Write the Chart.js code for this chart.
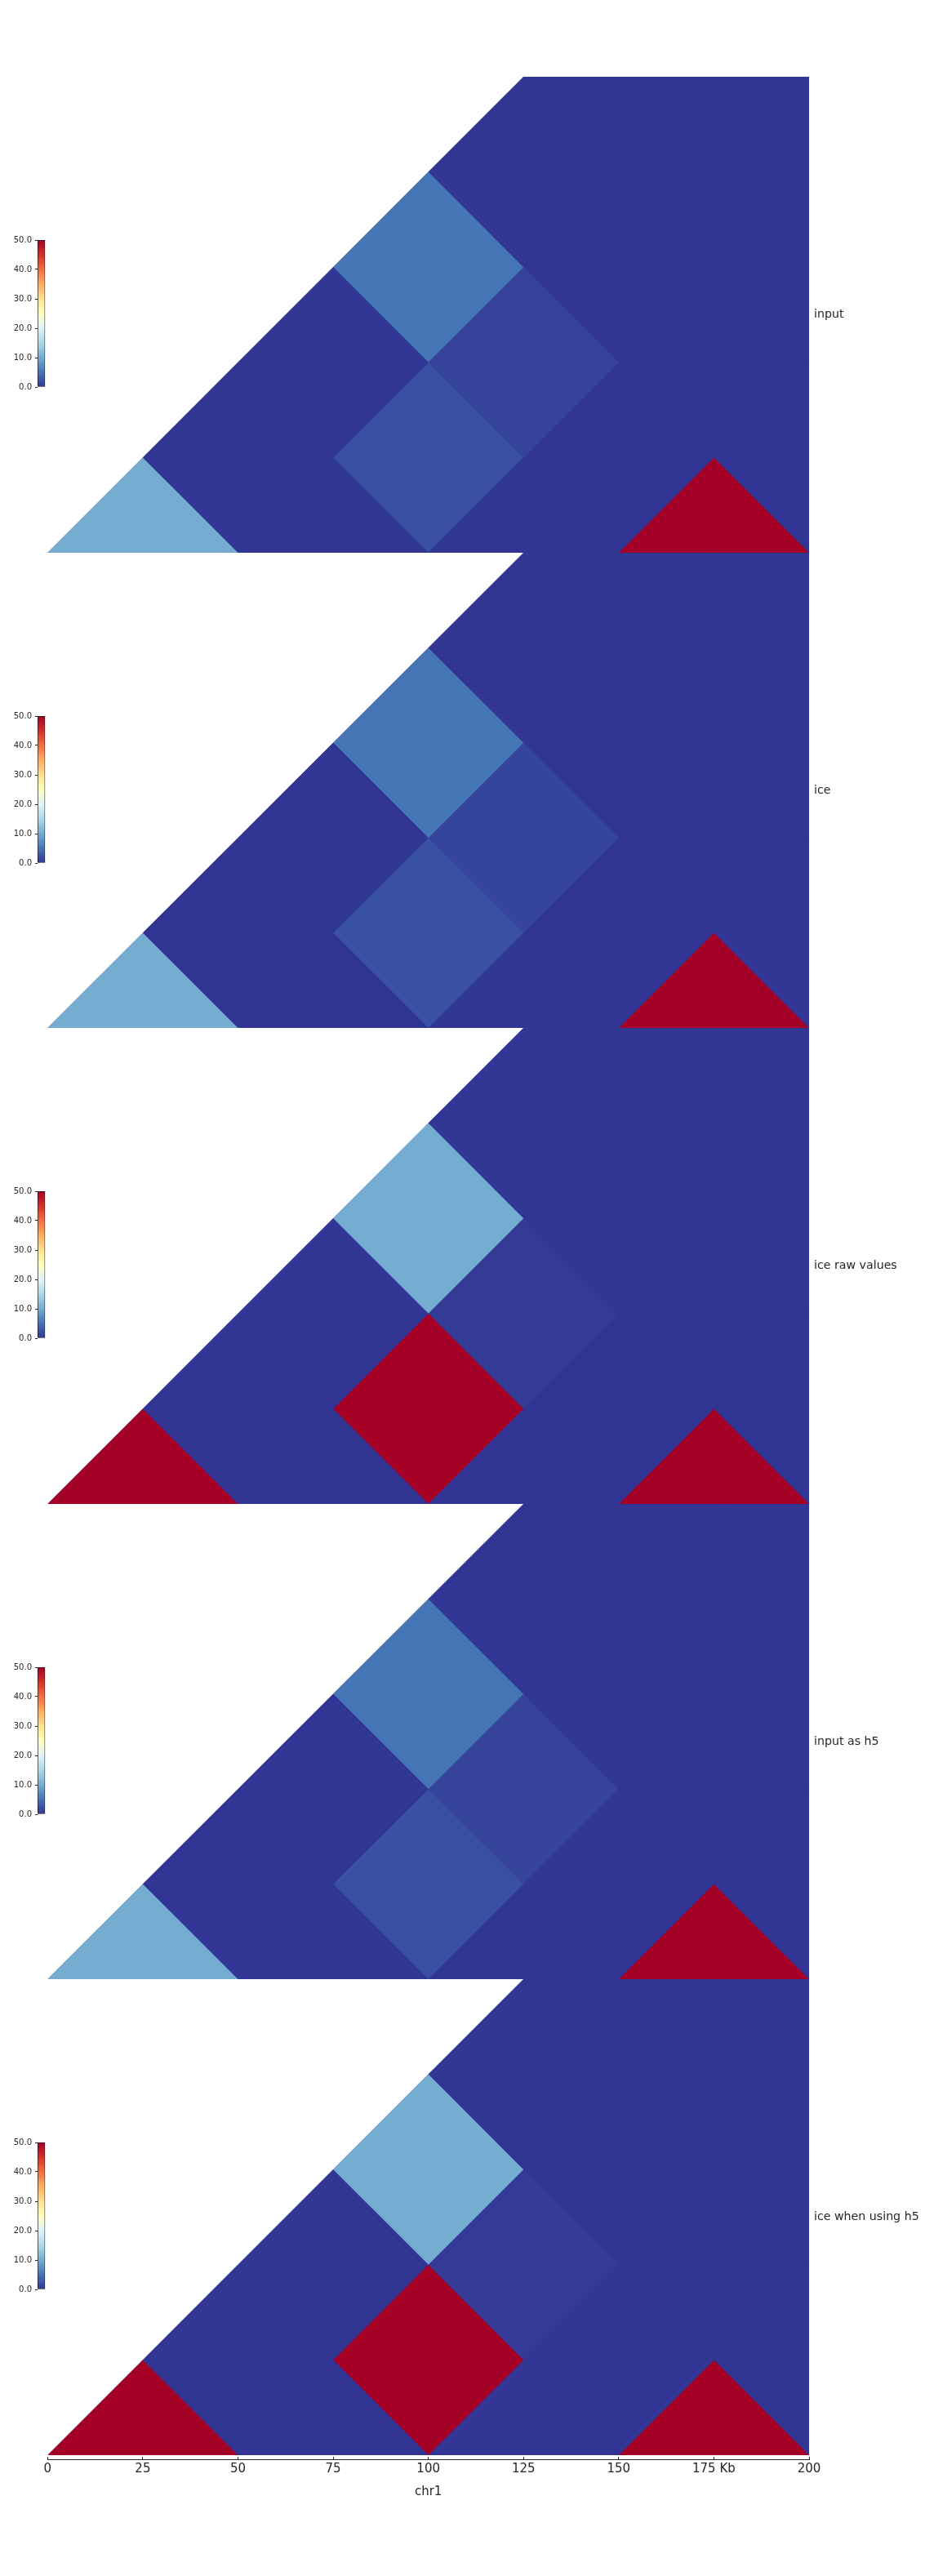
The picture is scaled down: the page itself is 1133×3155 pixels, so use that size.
<!DOCTYPE html>
<html>
<head>
<meta charset="utf-8">
<title>chr1 contact matrices</title>
<script src="https://cdn.jsdelivr.net/npm/chart.js"></script>
<style>
  html, body { margin: 0; padding: 0; background: #fff; }
  body { position: relative; width: 1133px; height: 3155px; overflow: hidden; font-family: "DejaVu Sans", sans-serif; }
  canvas { position: absolute; left: 0; }
  .track-label { position: absolute; left: 997px; font-size: 14.2px; line-height: 18px; color: #262626; white-space: nowrap; }
</style>
</head>
<body>
<script>
// 50 kb bins, only the first four bins (0-200 kb) hold counts; chr1 runs on past the view
const binSize = 50;
const chromEnd = 350;
const regionStart = 0;
const regionEnd = 200;
const maxDepth = 125; // half of the 250 kb max distance shown
const vMax = 50;

const trackLabels = ['input', 'ice', 'ice raw values', 'input as h5', 'ice when using h5'];

// symmetric matrices, bins 0-50, 50-100, 100-150, 150-200 kb
const inputMatrix = [
  [10, 0, 0, 5],
  [0, 0, 2, 1],
  [0, 2, 0, 0],
  [5, 1, 0, 50]
];
const iceMatrix = [
  [10, 0, 0, 5],
  [0, 0, 2.2, 1.1],
  [0, 2.2, 0, 0],
  [5, 1.1, 0, 50]
];
const iceRawMatrix = [
  [50, 0, 0, 10],
  [0, 0, 50, 0.4],
  [0, 50, 0, 0],
  [10, 0.4, 0, 50]
];
const inputH5Matrix = [
  [10, 0, 0, 5],
  [0, 0, 2, 1],
  [0, 2, 0, 0],
  [5, 1, 0, 50]
];
const iceH5Matrix = [
  [50, 0, 0, 10],
  [0, 0, 50, 0.4],
  [0, 50, 0, 0],
  [10, 0.4, 0, 50]
];
const trackMatrices = [inputMatrix, iceMatrix, iceRawMatrix, inputH5Matrix, iceH5Matrix];

const xTicks = [0, 25, 50, 75, 100, 125, 150, 175, 200];
const xTickLabels = ['0', '25', '50', '75', '100', '125', '150', '175 Kb', '200'];
const colorbarTicks = [0, 10, 20, 30, 40, 50];
const colorbarTickLabels = ['0.0', '10.0', '20.0', '30.0', '40.0', '50.0'];

// RdYlBu_r
const cmap = ['#313695', '#4575b4', '#74add1', '#abd9e9', '#e0f3f8', '#ffffbf',
              '#fee090', '#fdae61', '#f46d43', '#d73027', '#a50026'];

// layout
const panelTops = [94, 677, 1259, 1842, 2424, 3007];
const textColor = '#262626';
Chart.defaults.font.family = '"DejaVu Sans", sans-serif';

function hexToRgb(h) {
  return [1, 3, 5].map(k => parseInt(h.slice(k, k + 2), 16));
}

function colorFor(v) {
  const t = Math.min(1, Math.max(0, v / vMax)) * (cmap.length - 1);
  const k = Math.min(Math.floor(t), cmap.length - 2);
  const f = t - k;
  const a = hexToRgb(cmap[k]);
  const b = hexToRgb(cmap[k + 1]);
  return 'rgb(' + a.map((c, n) => Math.round(c + (b[n] - c) * f)).join(',') + ')';
}

function addCanvas(top, width, height) {
  const cv = document.createElement('canvas');
  cv.width = width;
  cv.height = height;
  cv.style.top = top + 'px';
  cv.style.width = width + 'px';
  cv.style.height = height + 'px';
  document.body.appendChild(cv);
  return cv.getContext('2d');
}

const shapeStyle = { fill: 'shape', borderWidth: 0, pointRadius: 0, tension: 0 };

// every cell (i, j) becomes a 45 degree diamond: x = mid of the two bins, y = half the distance
function cellDatasets(matrix) {
  const nBins = chromEnd / binSize;
  const sets = [];
  for (let i = 0; i < nBins; i++) {
    for (let j = i; j < nBins; j++) {
      const v = (matrix[i] && matrix[i][j] !== undefined) ? matrix[i][j] : 0;
      const a = i * binSize, b = a + binSize, c = j * binSize, d = c + binSize;
      const pts = [
        { x: (b + c) / 2, y: (c - b) / 2 },
        { x: (a + c) / 2, y: (c - a) / 2 },
        { x: (a + d) / 2, y: (d - a) / 2 },
        { x: (b + d) / 2, y: (d - b) / 2 }
      ];
      pts.push(pts[0]);
      sets.push(Object.assign({ data: pts, backgroundColor: colorFor(v) }, shapeStyle));
    }
  }
  // whole matrix footprint, drawn first (last dataset) so seams between cells stay dark
  sets.push(Object.assign({
    data: [{ x: 0, y: 0 }, { x: chromEnd / 2, y: chromEnd / 2 }, { x: chromEnd, y: 0 }, { x: 0, y: 0 }],
    backgroundColor: colorFor(0)
  }, shapeStyle));
  return sets;
}

function colorbarFill(c) {
  const chart = c.chart;
  const y = chart.scales.y;
  if (!y || !chart.chartArea) return cmap[0];
  const y0 = y.getPixelForValue(0), y1 = y.getPixelForValue(vMax);
  if (!isFinite(y0) || !isFinite(y1) || y0 === y1) return cmap[0];
  const g = chart.ctx.createLinearGradient(0, y0, 0, y1);
  cmap.forEach((col, k) => g.addColorStop(k / (cmap.length - 1), col));
  return g;
}

const quiet = { legend: { display: false }, tooltip: { enabled: false } };

trackMatrices.forEach((matrix, k) => {
  const top = panelTops[k];
  const height = panelTops[k + 1] - top;

  new Chart(addCanvas(top, 1133, height), {
    type: 'line',
    data: { datasets: cellDatasets(matrix) },
    options: {
      responsive: false,
      animation: false,
      events: [],
      layout: { padding: { left: 58.3, right: 142, top: 0, bottom: 0 } },
      scales: {
        x: { type: 'linear', min: regionStart, max: regionEnd, display: false },
        y: { type: 'linear', min: 0, max: maxDepth, display: false }
      },
      plugins: quiet
    }
  });

  // colorbar
  new Chart(addCanvas(top + 190, 70, 200), {
    type: 'bar',
    data: {
      labels: [''],
      datasets: [{
        data: [vMax],
        backgroundColor: colorbarFill,
        borderColor: '#1a1a1a',
        borderWidth: 1,
        borderSkipped: false,
        barPercentage: 1,
        categoryPercentage: 1
      }]
    },
    options: {
      responsive: false,
      animation: false,
      events: [],
      layout: { padding: { left: 0, right: 14.7, top: 8.7, bottom: 5.7 } },
      scales: {
        x: { display: false },
        y: {
          min: 0, max: vMax,
          afterBuildTicks: s => { s.ticks = colorbarTicks.map(v => ({ value: v })); },
          afterFit: s => { s.width = 46; },
          ticks: {
            callback: (v, i) => colorbarTickLabels[i],
            font: { size: 10 }, color: textColor, padding: 4
          },
          grid: { drawOnChartArea: false, tickLength: 3, color: textColor },
          border: { display: false }
        }
      },
      plugins: quiet
    }
  });

  const label = document.createElement('div');
  label.className = 'track-label';
  label.textContent = trackLabels[k];
  label.style.top = ((top + panelTops[k + 1]) / 2 - 10.2) + 'px';
  document.body.appendChild(label);
});

// genome axis
new Chart(addCanvas(2995, 1133, 75), {
  type: 'line',
  data: { datasets: [] },
  options: {
    responsive: false,
    animation: false,
    events: [],
    layout: { padding: { left: 58.3, right: 142, top: 14, bottom: 0 } },
    scales: {
      x: {
        type: 'linear', min: regionStart, max: regionEnd, position: 'bottom',
        afterBuildTicks: s => { s.ticks = xTicks.map(v => ({ value: v })); },
        afterFit: s => { s.height = 57.7; },
        ticks: {
          callback: (v, i) => xTickLabels[i],
          font: { size: 15 }, color: textColor, padding: 3,
          maxRotation: 0, autoSkip: false
        },
        grid: { drawTicks: false, color: textColor },
        border: { display: true, color: textColor },
        title: { display: true, text: 'chr1', font: { size: 15 }, color: textColor, padding: { top: 0, bottom: 9 } }
      },
      y: { display: false, min: 0, max: 1 }
    },
    plugins: quiet
  }
});
</script>
</body>
</html>
